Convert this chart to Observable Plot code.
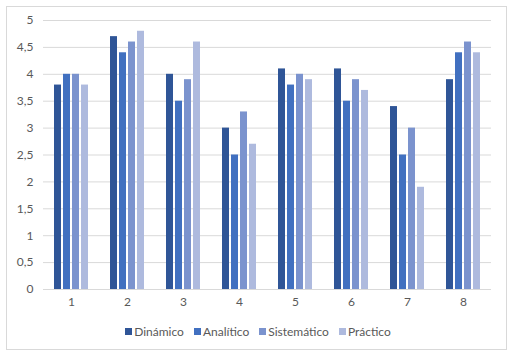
<!DOCTYPE html>
<html>
<head>
<meta charset="utf-8">
<script src="https://cdn.jsdelivr.net/npm/d3@7"></script>
<script src="https://cdn.jsdelivr.net/npm/@observablehq/plot@0.6"></script>
<style>
  body { margin: 0; background: #fff; }
  #wrap { position: relative; width: 514px; height: 357px; font-family: Lato, "Liberation Sans", sans-serif; }
  #frame { position: absolute; left: 6px; top: 6px; width: 501px; height: 344px; border: 1px solid #d9d9d9; box-sizing: border-box; }
  #chart { position: absolute; left: 0; top: 0; }
  #legend { position: absolute; left: 1px; width: 514px; top: 324px; display: flex; justify-content: center; gap: 10px; font-size: 12px; color: #595959; }
  #legend span.item { display: flex; align-items: center; }
  #legend span.sw { display: inline-block; width: 7px; height: 7px; margin-right: 2px; }
</style>
</head>
<body>
<div id="wrap">
  <div id="frame"></div>
  <div id="chart"></div>
  <div id="legend"></div>
</div>
<script>
const groups = ["1", "2", "3", "4", "5", "6", "7", "8"];
const series = ["Dinámico", "Analítico", "Sistemático", "Práctico"];
const colors = ["#2f5597", "#4170c0", "#7b93ce", "#aebade"];
const dinamico    = [3.8, 4.7, 4.0, 3.0, 4.1, 4.1, 3.4, 3.9];
const analitico   = [4.0, 4.4, 3.5, 2.5, 3.8, 3.5, 2.5, 4.4];
const sistematico = [4.0, 4.6, 3.9, 3.3, 4.0, 3.9, 3.0, 4.6];
const practico    = [3.8, 4.8, 4.6, 2.7, 3.9, 3.7, 1.9, 4.4];
const yTicks = [0, 0.5, 1, 1.5, 2, 2.5, 3, 3.5, 4, 4.5, 5];

const valuesBySeries = [dinamico, analitico, sistematico, practico];
const data = [];
groups.forEach((g, i) => {
  series.forEach((s, j) => data.push({group: g, series: s, value: valuesBySeries[j][i]}));
});

const fmt = d => String(d).replace(".", ",");

const chart = Plot.plot({
  width: 514,
  height: 315,
  marginTop: 20,
  marginBottom: 26,
  marginLeft: 40,
  marginRight: 21,
  style: {fontFamily: "Lato, 'Liberation Sans', sans-serif", fontSize: "12px", color: "#595959", background: "transparent"},
  fx: {domain: groups, padding: 0, label: null, axis: "bottom", tickSize: 0, tickPadding: 8},
  x: {domain: series, paddingInner: 0.2, paddingOuter: 0.93, axis: null},
  y: {domain: [0, 5], ticks: yTicks, tickFormat: fmt, tickSize: 0, tickPadding: 10, label: null, grid: false},
  color: {domain: series, range: colors},
  marks: [
    Plot.ruleY(yTicks, {stroke: "#d9d9d9", strokeWidth: 1}),
    Plot.barY(data, {fx: "group", x: "series", y: "value", fill: "series"})
  ]
});
document.getElementById("chart").appendChild(chart);

const legend = document.getElementById("legend");
series.forEach((s, i) => {
  const item = document.createElement("span");
  item.className = "item";
  const sw = document.createElement("span");
  sw.className = "sw";
  sw.style.background = colors[i];
  item.appendChild(sw);
  item.appendChild(document.createTextNode(s));
  legend.appendChild(item);
});
</script>
</body>
</html>
